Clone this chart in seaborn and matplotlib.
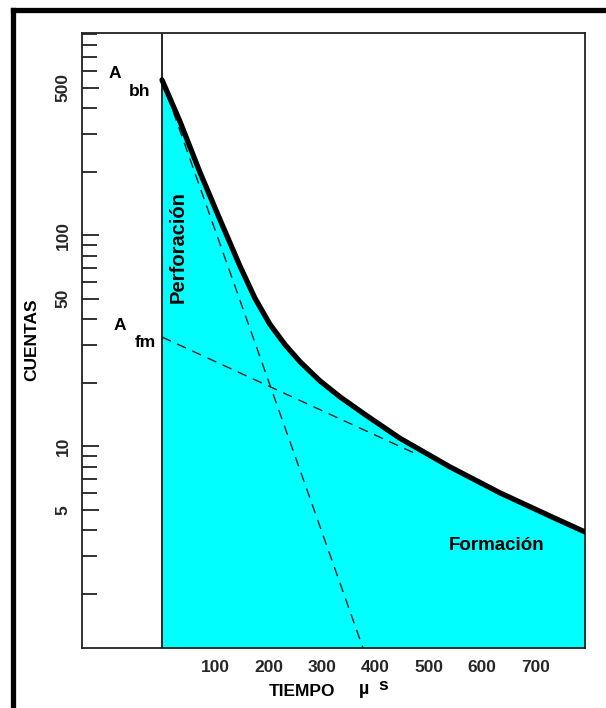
import matplotlib
matplotlib.use("Agg")
import matplotlib.pyplot as plt
import seaborn as sns
import pandas as pd
from matplotlib.lines import Line2D
from matplotlib.ticker import FixedLocator, NullFormatter

# ---- data ----
time_total = [0, 34, 71, 109, 146, 174, 202, 231, 259, 296, 334, 381, 446, 540, 634, 727, 793]
counts_total = [544, 344, 199, 118, 71.5, 50.4, 37.9, 30.2, 25.1, 20.4, 17.1, 14.1,
                10.9, 7.97, 6.0, 4.67, 3.92]
time_perf = [0, 377]
counts_perf = [544, 1.1]
time_form = [0, 480]
counts_form = [32.9, 9.1]
x_tick_values = [100, 200, 300, 400, 500, 600, 700]
y_tick_values = [5, 10, 50, 100, 500]
y_minor_values = [2, 3, 4, 6, 7, 8, 9, 20, 30, 40, 60, 70, 80, 90,
                  200, 300, 400, 600, 700, 800, 900]

sns.set_theme(style="white")
plt.rcParams['font.family'] = ['Liberation Sans', 'DejaVu Sans']

W, H = 606, 708
fig = plt.figure(figsize=(W / 100, H / 100), dpi=100)
fig.patch.set_facecolor("white")
ax = fig.add_axes([82 / W, 1 - 648 / H, (585 - 82) / W, (648 - 33) / H])
ax.set_facecolor("white")

ax.set_yscale("log")
ax.set_xlim(-150, 793)
ax.set_ylim(1.105, 908)

df_total = pd.DataFrame({"t": time_total, "c": counts_total})
df_perf = pd.DataFrame({"t": time_perf, "c": counts_perf})
df_form = pd.DataFrame({"t": time_form, "c": counts_form})

ax.fill_between(time_total, counts_total, 1.105, color="#00FFFF", lw=0, zorder=1)
ax.axvline(0, color="black", lw=1.2, zorder=2)

sns.lineplot(data=df_perf, x="t", y="c", ax=ax, color="#102020", lw=1.0,
             dashes=False, linestyle=(0, (7, 5)), zorder=3)
sns.lineplot(data=df_form, x="t", y="c", ax=ax, color="#102020", lw=1.0,
             dashes=False, linestyle=(0, (7, 5)), zorder=3)
sns.lineplot(data=df_total, x="t", y="c", ax=ax, color="black", lw=3.8,
             solid_capstyle="round", solid_joinstyle="round", zorder=4)

ax.set_xlabel("")
ax.set_ylabel("")

for sp in ax.spines.values():
    sp.set_color("#222222")
    sp.set_linewidth(1.3)
    sp.set_visible(True)

ax.xaxis.set_major_locator(FixedLocator(x_tick_values))
ax.set_xticklabels([str(v) for v in x_tick_values])
ax.xaxis.set_minor_locator(FixedLocator([]))
ax.tick_params(axis="x", which="major", direction="in", length=11, width=1.3,
               color="#222222", bottom=True, top=False, pad=9,
               labelsize=12.5)

ax.yaxis.set_major_locator(FixedLocator(y_tick_values))
ax.set_yticklabels([str(v) for v in y_tick_values])
ax.yaxis.set_minor_locator(FixedLocator(y_minor_values))
ax.yaxis.set_minor_formatter(NullFormatter())
ax.tick_params(axis="y", which="major", direction="in", length=12, width=1.3,
               color="#222222", left=True, right=False, pad=8, labelsize=12.5)
ax.tick_params(axis="y", which="minor", direction="in", length=11, width=1.3,
               color="#222222", left=True, right=False)
for lab in ax.get_yticklabels():
    lab.set_rotation(90)
    lab.set_va("center")
    lab.set_fontweight("bold")
for lab in ax.get_xticklabels():
    lab.set_fontweight("bold")


def ft(x, y, s, **kw):
    fig.text(x / W, 1 - y / H, s, ha="center", va="center",
             fontweight="bold", color="black", **kw)


ft(115, 74, "A", fontsize=12.5)
ft(140, 91, "bh", fontsize=12.5)
ft(120, 325, "A", fontsize=12.5)
ft(145, 342, "fm", fontsize=12.5)
ft(178, 247, "Perforación", fontsize=14.5, rotation=90)
ft(497, 545, "Formación", fontsize=13.5)
ft(32, 340, "CUENTAS", fontsize=12.5, rotation=90)
ft(302, 692, "TIEMPO", fontsize=12.5)
ft(364, 690, "µ", fontsize=13)
ft(383, 686, "s", fontsize=12.5)

# outer frame (left and top thick lines)
fig.add_artist(Line2D([12.5 / W, 12.5 / W], [0, 1 - 10 / H], color="black",
                      lw=3.8, transform=fig.transFigure, solid_capstyle="projecting"))
fig.add_artist(Line2D([12.5 / W, 1], [1 - 10 / H, 1 - 10 / H], color="black",
                      lw=3.8, transform=fig.transFigure, solid_capstyle="projecting"))

fig.savefig("out.png", dpi=100, facecolor="white")
